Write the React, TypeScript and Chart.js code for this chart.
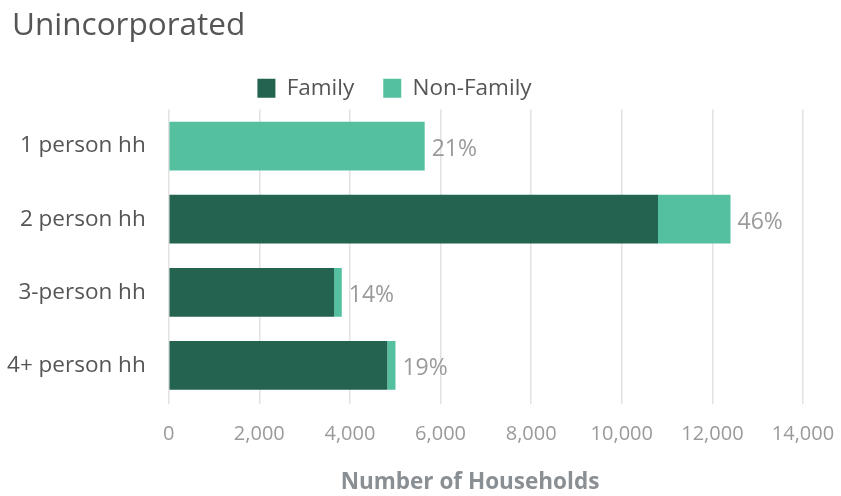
import React, { useEffect, useRef } from "react";
import { Chart, registerables } from "chart.js";

Chart.register(...registerables);

const categories = ["1 person hh", "2 person hh", "3-person hh", "4+ person hh"];
const familyValues = [0, 10800, 3650, 4825];
const nonFamilyValues = [5650, 1600, 170, 180];
const xTicksMax = 14000;
const xTickStep = 2000;
const chartTitle = "Unincorporated";
const xAxisTitle = "Number of Households";

const FONT = "'Open Sans', 'Noto Sans', sans-serif";

const pctLabelPlugin = {
  id: "pctLabels",
  afterDatasetsDraw(chart: any) {
    const ctx = chart.ctx;
    const totals = categories.map((_, i) => familyValues[i] + nonFamilyValues[i]);
    const grand = totals.reduce((a, b) => a + b, 0);
    const meta = chart.getDatasetMeta(1);
    ctx.save();
    ctx.font = `23px ${FONT}`;
    ctx.fillStyle = "#9a9a9a";
    ctx.textAlign = "left";
    ctx.textBaseline = "middle";
    meta.data.forEach((bar: any, i: number) => {
      const pct = Math.round((totals[i] / grand) * 100);
      ctx.fillText(`${pct}%`, bar.x + 7, bar.y + 3);
    });
    ctx.restore();
  },
};

const textPlugin = {
  id: "extraText",
  afterLayout(chart: any) {
    const lg = chart.legend;
    if (lg) {
      lg.right -= 14;
      lg.width -= 14;
    }
  },
  afterDraw(chart: any) {
    const ctx = chart.ctx;
    ctx.save();
    ctx.font = `31.5px ${FONT}`;
    ctx.fillStyle = "#555555";
    ctx.textAlign = "left";
    ctx.textBaseline = "alphabetic";
    ctx.fillText(chartTitle, 12, 35);
    ctx.font = `bold 22.5px ${FONT}`;
    ctx.fillStyle = "#8a8f94";
    ctx.textAlign = "center";
    ctx.textBaseline = "middle";
    ctx.fillText(xAxisTitle, 470, 483);
    ctx.restore();
  },
};

export default function App() {
  const ref = useRef<HTMLCanvasElement>(null);
  useEffect(() => {
    if (!ref.current) return;
    const chart = new Chart(ref.current, {
      type: "bar",
      data: {
        labels: categories,
        datasets: [
          {
            label: "Family",
            data: familyValues,
            backgroundColor: "#256351",
            barPercentage: 0.665,
            categoryPercentage: 1,
          },
          {
            label: "Non-Family",
            data: nonFamilyValues,
            backgroundColor: "#54c0a0",
            barPercentage: 0.665,
            categoryPercentage: 1,
          },
        ],
      },
      options: {
        indexAxis: "y",
        animation: false,
        responsive: false,
        maintainAspectRatio: false,
        layout: { padding: { left: 0, right: 38, top: 48, bottom: 0 } },
        plugins: {
          title: { display: false },
          legend: {
            display: true,
            position: "top",
            labels: {
              color: "#555555",
              font: { family: FONT, size: 22.5 },
              boxWidth: 18,
              boxHeight: 19,
              padding: 29,
            },
          },
          tooltip: { enabled: false },
        },
        scales: {
          x: {
            stacked: true,
            min: 0,
            max: xTicksMax,
            grid: { color: "#e2e2e2", lineWidth: 1.5, tickLength: 2 },
            border: { display: false },
            ticks: {
              stepSize: xTickStep,
              color: "#9a9a9a",
              font: { family: FONT, size: 20 },
              padding: 18,
              callback: (v: any) => Number(v).toLocaleString("en-US"),
            },
            afterFit: (scale: any) => {
              scale.height = 94;
              scale.paddingRight = 0;
              scale.paddingLeft = 0;
            },
          },
          y: {
            stacked: true,
            grid: { display: false },
            border: { display: false },
            ticks: {
              color: "#555555",
              font: { family: FONT, size: 22.5 },
              padding: 15,
            },
            afterFit: (scale: any) => {
              scale.width = 168.7;
            },
          },
        },
      },
      plugins: [pctLabelPlugin, textPlugin],
    });
    return () => chart.destroy();
  }, []);
  return (
    <div style={{ position: "absolute", left: 0, top: 0, width: 841, height: 496, background: "#fff" }}>
      <canvas ref={ref} width={841} height={496} style={{ width: 841, height: 496 }} />
    </div>
  );
}
